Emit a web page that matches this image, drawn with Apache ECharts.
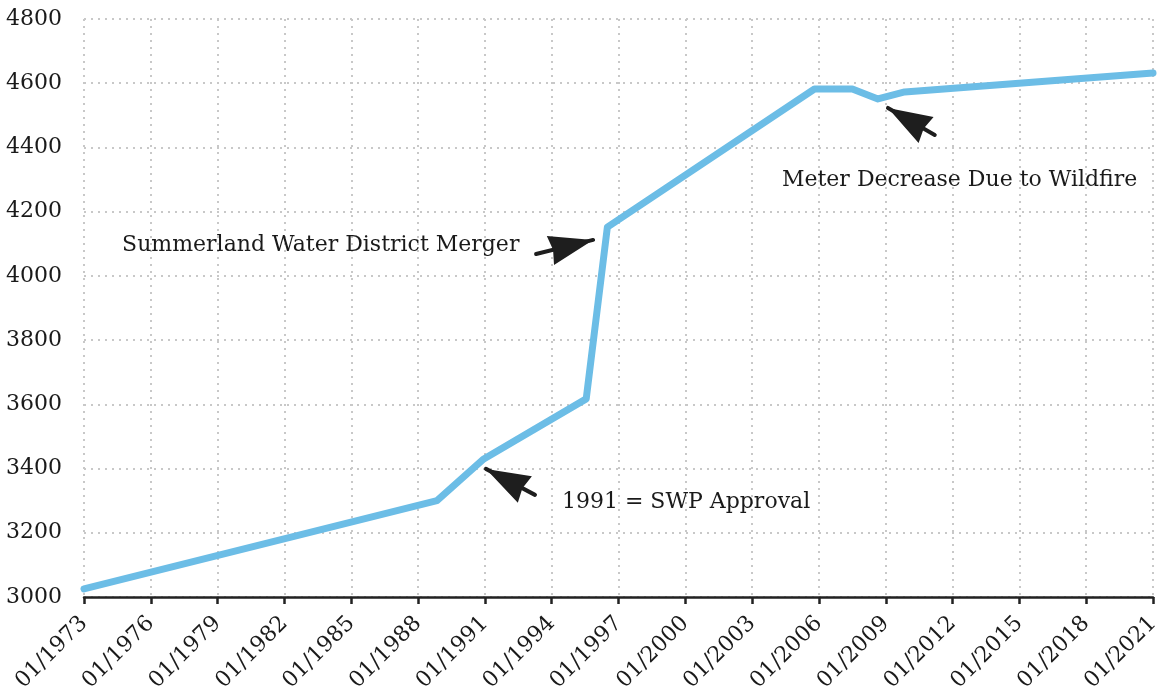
<!DOCTYPE html>
<html><head><meta charset="utf-8">
<script src="https://cdn.jsdelivr.net/npm/echarts@6/dist/echarts.min.js"></script>
<style>html,body{margin:0;padding:0;background:#fff}#c{width:1167px;height:696px}</style>
</head><body><div id="c"></div>
<script>
// Year (decimal) and meter count
var years  = [1973, 1988.85, 1990.95, 1995.55, 1996.5, 2005.8, 2007.5, 2008.65, 2009.85, 2021];
var meters = [3025, 3300, 3430, 3617, 4152, 4582, 4582, 4551, 4573, 4632];
var yTicks = [3000, 4800, 200];
var xTicks = [1973, 2021, 3];
var notes = [
  {text: '1991 = SWP Approval', at: [1994.46, 3296], align: 'left', arrowFrom: [1993.25, 3318], arrowTo: [1991.05, 3399]},
  {text: 'Summerland Water District Merger', at: [1992.55, 4096], align: 'right', arrowFrom: [1993.3, 4068], arrowTo: [1995.86, 4112]},
  {text: 'Meter Decrease Due to Wildfire', at: [2004.34, 4299], align: 'left', arrowFrom: [2011.2, 4439], arrowTo: [2009.1, 4523]}
];
var FONT = 'DejaVu Serif';
var chart = echarts.init(document.getElementById('c'));
var lineData = years.map(function(y, i){ return [y, meters[i]]; });
chart.setOption({
  animation: false,
  grid: {left: 84, right: 14, top: 19, bottom: 99, containLabel: false},
  xAxis: {
    type: 'value', min: xTicks[0], max: xTicks[1], interval: xTicks[2],
    axisLine: {show: true, onZero: false, lineStyle: {color: '#222', width: 2.5}},
    axisTick: {show: true, length: 7, lineStyle: {color: '#222', width: 2.5}},
    axisLabel: {rotate: 45, margin: 23, color: '#1a1a1a', fontFamily: FONT, fontSize: 22,
      formatter: function(v){ return '01/' + v; }},
    splitLine: {show: true, lineStyle: {color: '#c8c8c8', width: 2, type: [2, 5]}}
  },
  yAxis: {
    type: 'value', min: yTicks[0], max: yTicks[1], interval: yTicks[2],
    axisLine: {show: false}, axisTick: {show: false},
    axisLabel: {margin: 22, color: '#1a1a1a', fontFamily: FONT, fontSize: 22,
      formatter: function(v){ return String(v); }},
    splitLine: {show: true, lineStyle: {color: '#c8c8c8', width: 2, type: [2, 5]}}
  },
  series: [{
    type: 'line', data: lineData, showSymbol: false, symbol: 'none',
    lineStyle: {color: '#6cbde6', width: 7, cap: 'round', join: 'round'},
    z: 3,
    markLine: {
      silent: true, animation: false,
      symbol: ['none', 'path://M5,0 L10,16 L5,15 L0,16 Z'], symbolSize: [30, 44],
      symbolOffset: [[0, 0], [0, 22]],
      label: {show: false},
      lineStyle: {color: '#1e1e1e', width: 4, type: 'solid', cap: 'round'},
      data: notes.map(function(n){ return [{coord: n.arrowFrom}, {coord: n.arrowTo}]; })
    },
    markPoint: {
      silent: true, animation: false, symbol: 'circle', symbolSize: 0,
      data: notes.map(function(n){
        return {coord: n.at, label: {show: true, formatter: n.text, position: n.align === 'left' ? 'right' : 'left',
          distance: 0, color: '#1a1a1a', fontFamily: FONT, fontSize: 22}};
      })
    }
  }]
});
</script></body></html>
